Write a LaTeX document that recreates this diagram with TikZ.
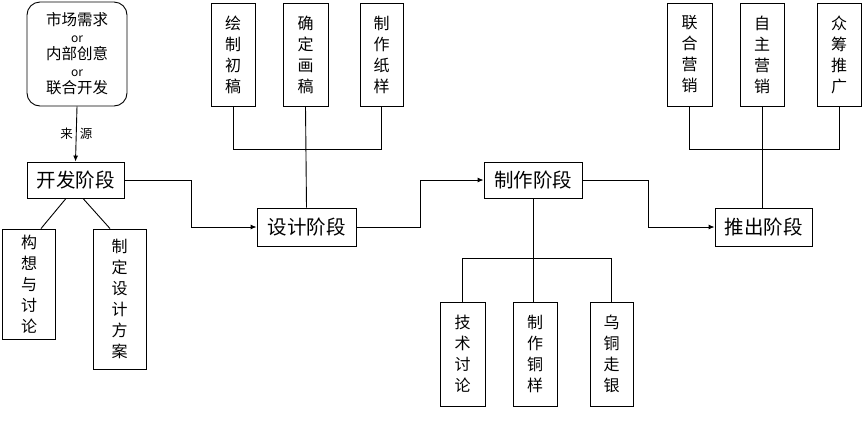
\documentclass[tikz,border=0pt]{standalone}
\usepackage{fontspec}
\setmainfont{Noto Sans CJK SC}
\usetikzlibrary{arrows.meta,calc}
\begin{document}
\begin{tikzpicture}[x=1pt,y=-1pt,
  line width=0.9pt,
  box/.style={draw,inner sep=0pt,align=center},
  stagebox/.style={box,minimum width=98pt,minimum height=37pt,font=\fontsize{19.5}{22}\selectfont},
  vbox/.style={box,minimum width=44pt,font=\fontsize{16}{21}\selectfont},
  arr/.style={-{Latex[length=6pt,width=5pt]}}
]
\useasboundingbox (0,0) rectangle (866,424);
% source
\node[box,rounded corners=13pt,minimum width=100pt,minimum height=104pt,font=\fontsize{15.5}{17}\selectfont]
  (src) at (77,54) {市场需求\\{\fontsize{12}{17}\selectfont or}\\内部创意\\{\fontsize{12}{17}\selectfont or}\\联合开发};
% stages
\node[stagebox,minimum width=97pt,minimum height=36pt] (dev) at (75.5,180) {开发阶段};
\node[stagebox,minimum width=99pt,minimum height=38pt] (des) at (306.5,227) {设计阶段};
\node[stagebox,minimum height=36pt] (mk) at (533,180) {制作阶段};
\node[stagebox,minimum width=97pt,minimum height=38pt] (rel) at (763.5,227) {推出阶段};
% dev children
\node[vbox,minimum width=53pt,minimum height=110pt] (c1) at (29,284) {构\\想\\与\\讨\\论};
\node[vbox,minimum width=53pt,minimum height=140pt] (c2) at (119.5,299) {制\\定\\设\\计\\方\\案};
% design children
\node[vbox,minimum height=103pt] (d1) at (233,54.5) {绘\\制\\初\\稿};
\node[vbox,minimum width=45pt,minimum height=103pt] (d2) at (305.5,54.5) {确\\定\\画\\稿};
\node[vbox,minimum width=43pt,minimum height=103pt] (d3) at (381.5,54.5) {制\\作\\纸\\样};
% make children
\node[vbox,minimum width=45pt,minimum height=104pt] (m1) at (462.5,354) {技\\术\\讨\\论};
\node[vbox,minimum height=104pt] (m2) at (535,354) {制\\作\\铜\\样};
\node[vbox,minimum width=43pt,minimum height=104pt] (m3) at (611.5,354) {乌\\铜\\走\\银};
% release children
\node[vbox,minimum width=45pt,minimum height=103pt] (r1) at (689.5,54.5) {联\\合\\营\\销};
\node[vbox,minimum height=103pt] (r2) at (762,54.5) {自\\主\\营\\销};
\node[vbox,minimum height=103pt] (r3) at (839,54.5) {众\\筹\\推\\广};
% connectors
\draw[arr] (src.south) -- node[font=\fontsize{12.5}{14}\selectfont]{来\hspace{7pt}源} (dev.north);
\draw ([xshift=-9.5pt]dev.south) -- ([xshift=12pt]c1.north);
\draw ([xshift=7.5pt]dev.south) -- ([xshift=-9.5pt]c2.north);
\draw[arr] (dev.east) -- ++(67,0) |- (des.west);
\draw[arr] (des.east) -- ++(64,0) |- (mk.west);
\draw[arr] (mk.east) -- ++(66,0) |- (rel.west);
\draw (d1.south) -- ++(0,43) -| (d3.south);
\draw (d2.south) -- (des.north);
\draw (m1.north) -- ++(0,-43) -| (m3.north);
\draw (mk.south) -- (mk.south |- m2.north);
\draw (r1.south) -- ++(0,43) -| (r3.south);
\draw (r2.south) -- (r2.south |- rel.north);
\end{tikzpicture}
\end{document}
